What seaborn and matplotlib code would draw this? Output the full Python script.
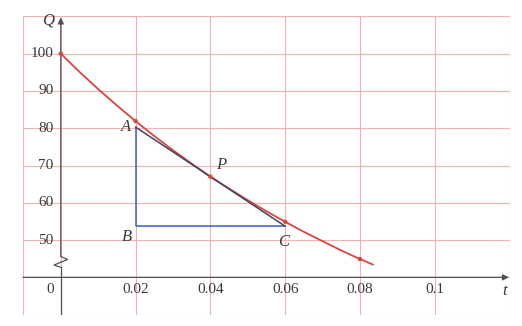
import matplotlib
matplotlib.use("Agg")
import matplotlib.pyplot as plt
import seaborn as sns
import pandas as pd

# ---- data ----
t_curve = [0.0, 0.005, 0.01, 0.015, 0.02, 0.025, 0.03, 0.035, 0.04, 0.045,
           0.05, 0.055, 0.06, 0.065, 0.07, 0.075, 0.08, 0.0835]
Q_curve = [100.0, 95.1, 90.5, 86.1, 81.9, 77.9, 74.1, 70.5, 67.0, 63.8,
           60.7, 57.7, 54.9, 52.2, 49.7, 47.2, 44.9, 43.4]

t_points = [0.0, 0.02, 0.04, 0.06, 0.08]
Q_points = [100.0, 81.9, 67.0, 54.9, 44.9]

leg_t = [0.02, 0.02, 0.06]          # A -> B -> C
leg_Q = [80.3, 53.7, 53.7]
hyp_t = [0.02, 0.06]                # A -> C (tangent)
hyp_Q = [80.3, 53.7]

y_ticks = [50, 60, 70, 80, 90, 100]
y_tick_labels = ["50", "60", "70", "80", "90", "100"]
x_ticks = [0, 0.02, 0.04, 0.06, 0.08, 0.1]
x_tick_labels = ["0", "0.02", "0.04", "0.06", "0.08", "0.1"]

grid_x = [-0.01, 0, 0.02, 0.04, 0.06, 0.08, 0.10, 0.12]
grid_y = [30, 40, 50, 60, 70, 80, 90, 100, 110]

point_labels = ["A", "P", "B", "C"]
point_label_t = [0.0173, 0.0429, 0.0176, 0.0597]
point_label_Q = [80.3, 70.1, 50.9, 49.6]

# ---- style ----
sns.set_theme(style="white")
plt.rcParams["font.family"] = ["Liberation Serif", "DejaVu Serif"]

fig = plt.figure(figsize=(5.22, 3.26), dpi=100)
ax = fig.add_axes([23 / 522, 11 / 326, 487 / 522, 299 / 326])
ax.set_xlim(-0.0101, 0.1201)
ax.set_ylim(29.9, 110.1)

grid_color = "#f0b3b3"
ax.set_xticks(grid_x)
ax.set_yticks(grid_y)
ax.set_xticklabels([])
ax.set_yticklabels([])
ax.tick_params(length=0)
ax.grid(True, color=grid_color, lw=0.8)
for s in ax.spines.values():
    s.set_visible(False)

axis_color = "#50505a"
# x axis with arrow
ax.annotate("", xy=(0.1198, 40), xytext=(-0.0101, 40),
            arrowprops=dict(arrowstyle="-|>", color=axis_color, lw=0.9,
                            mutation_scale=9, shrinkA=0, shrinkB=0))
# y axis with break symbol
ax.plot([0, 0], [29.9, 42.7], color=axis_color, lw=0.9, zorder=3)
ax.annotate("", xy=(0, 109.7), xytext=(0, 45.6),
            arrowprops=dict(arrowstyle="-|>", color=axis_color, lw=0.9,
                            mutation_scale=9, shrinkA=0, shrinkB=0))
ax.plot([0, 0.0018, -0.0018, 0], [45.6, 44.8, 43.3, 42.7],
        color=axis_color, lw=0.9, zorder=3.6)

# curve
df_curve = pd.DataFrame({"t": t_curve, "Q": Q_curve})
sns.lineplot(data=df_curve, x="t", y="Q", ax=ax, color="#d9453d", lw=1.3,
             sort=False, estimator=None, zorder=4)

# triangle
df_leg = pd.DataFrame({"t": leg_t, "Q": leg_Q})
sns.lineplot(data=df_leg, x="t", y="Q", ax=ax, color="#3b5fcc", lw=1.1,
             sort=False, estimator=None, zorder=4)
df_hyp = pd.DataFrame({"t": hyp_t, "Q": hyp_Q})
sns.lineplot(data=df_hyp, x="t", y="Q", ax=ax, color="#3d4566", lw=1.1,
             sort=False, estimator=None, zorder=5)

# points
df_pts = pd.DataFrame({"t": t_points, "Q": Q_points})
sns.scatterplot(data=df_pts, x="t", y="Q", ax=ax, color="#d9453d", s=10,
                edgecolor="none", zorder=6)

ax.set_xlabel("")
ax.set_ylabel("")

text_color = "#3a3a3a"
# tick labels
for v, lab in zip(y_ticks, y_tick_labels):
    ax.text(-0.0019, v, lab, ha="right", va="center", fontsize=11,
            color=text_color)
for v, lab in zip(x_ticks, x_tick_labels):
    xx = -0.0027 if v == 0 else v
    ax.text(xx, 36.8, lab, ha="center", va="center", fontsize=11,
            color=text_color)

# axis names
ax.text(-0.0035, 108.8, "Q", ha="center", va="center", fontsize=12,
        style="italic", color=text_color)
ax.text(0.1187, 36.3, "t", ha="center", va="center", fontsize=12,
        style="italic", color=text_color)

# point labels
for lab, tt, qq in zip(point_labels, point_label_t, point_label_Q):
    ax.text(tt, qq, lab, ha="center", va="center", fontsize=12,
            style="italic", color=text_color)

fig.savefig("out.png", dpi=100)
